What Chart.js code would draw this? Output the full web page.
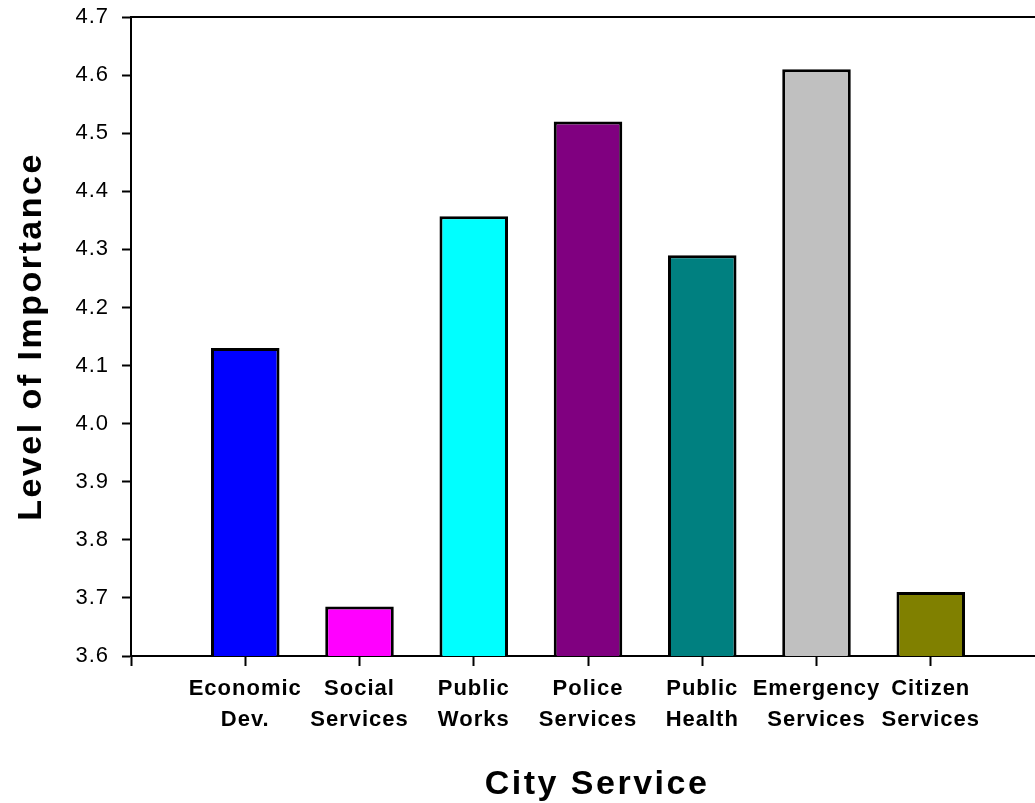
<!DOCTYPE html>
<html>
<head>
<meta charset="utf-8">
<script src="https://cdn.jsdelivr.net/npm/chart.js@4/dist/chart.umd.min.js"></script>
<style>
  html, body { margin: 0; padding: 0; background: #fff; overflow: hidden; width: 1035px; height: 803px; }
  canvas { display: block; }
</style>
</head>
<body>
<canvas id="chart" width="1053" height="803"></canvas>
<script>
// Empty slots at both ends leave the half-band margins around the service bars
const categories = [
  '',
  ['Economic', 'Dev.'],
  ['Social', 'Services'],
  ['Public', 'Works'],
  ['Police', 'Services'],
  ['Public', 'Health'],
  ['Emergency', 'Services'],
  ['Citizen', 'Services'],
  ''
];
const importance = [null, 4.13, 3.685, 4.357, 4.52, 4.29, 4.61, 3.71, null];
const barColors = ['#000000', '#0000FF', '#FF00FF', '#00FFFF', '#800080', '#008080', '#C0C0C0', '#808000', '#000000'];

const yMin = 3.6;
const yMax = 4.7;
const yStep = 0.1;

const FONT = "'Liberation Sans', Arial, Helvetica, sans-serif";

// Slightly open glyph spacing; axis titles get a wider spacing
const textSpacing = {
  id: 'textSpacing',
  beforeLayout(chart) { chart.ctx.letterSpacing = '1px'; },
  beforeDraw(chart) {
    chart.ctx.letterSpacing = '1px';
    for (const scale of Object.values(chart.scales)) {
      if (scale._wideTitle) continue;
      const drawTitle = scale.drawTitle.bind(scale);
      scale.drawTitle = function () {
        const ctx = this.ctx;
        const prev = ctx.letterSpacing;
        ctx.save();
        ctx.letterSpacing = '2.5px';
        if (this.isHorizontal()) ctx.translate(9, 0);
        drawTitle();
        ctx.restore();
        ctx.letterSpacing = prev;
      };
      scale._wideTitle = true;
    }
  }
};

// Closing line along the top of the plot area
const topFrame = {
  id: 'topFrame',
  afterDraw(chart) {
    const { ctx, chartArea: a } = chart;
    ctx.save();
    ctx.strokeStyle = '#000';
    ctx.lineWidth = 2;
    ctx.beginPath();
    ctx.moveTo(a.left - 1, a.top);
    ctx.lineTo(a.right, a.top);
    ctx.stroke();
    ctx.restore();
  }
};

new Chart(document.getElementById('chart'), {
  type: 'bar',
  data: {
    labels: categories,
    datasets: [{
      data: importance,
      backgroundColor: barColors,
      borderColor: '#000000',
      borderWidth: 3,
      borderSkipped: 'start',
      barPercentage: 0.6,
      categoryPercentage: 1.0
    }]
  },
  options: {
    responsive: false,
    animation: false,
    devicePixelRatio: 1,
    layout: { padding: { top: 17, left: 0, right: 8, bottom: 0 } },
    plugins: {
      legend: { display: false },
      tooltip: { enabled: false }
    },
    scales: {
      x: {
        offset: false,
        grid: {
          offset: false,
          display: true,
          drawOnChartArea: false,
          drawTicks: true,
          tickLength: 10,
          tickWidth: 2,
          color: '#000'
        },
        border: { display: true, color: '#000', width: 2 },
        ticks: {
          autoSkip: false,
          maxRotation: 0,
          minRotation: 0,
          padding: 8,
          color: '#000',
          font: { family: FONT, size: 22, weight: 'bold', lineHeight: 1.38 }
        },
        title: {
          display: true,
          text: 'City Service',
          color: '#000',
          padding: { top: 0, bottom: 0 },
          font: { family: FONT, size: 34, weight: 'bold', lineHeight: 1.1 }
        },
        afterFit(scale) {
          scale.height = 147;
          scale.paddingLeft = 0;
          scale.paddingRight = 0;
        }
      },
      y: {
        min: yMin,
        max: yMax,
        grid: {
          display: true,
          drawOnChartArea: false,
          drawTicks: true,
          tickLength: 9,
          tickWidth: 2,
          color: '#000'
        },
        border: { display: true, color: '#000', width: 2 },
        ticks: {
          stepSize: yStep,
          padding: 13,
          color: '#000',
          font: { family: FONT, size: 22 },
          callback: (v) => Number(v).toFixed(1)
        },
        title: {
          display: true,
          text: 'Level of Importance',
          color: '#000',
          padding: { top: 11, bottom: 0 },
          font: { family: FONT, size: 34, weight: 'bold', lineHeight: 1.2 }
        },
        afterFit(scale) {
          scale.width = 131;
          scale.paddingTop = 0;
          scale.paddingBottom = 0;
        }
      }
    }
  },
  plugins: [textSpacing, topFrame]
});
</script>
</body>
</html>
